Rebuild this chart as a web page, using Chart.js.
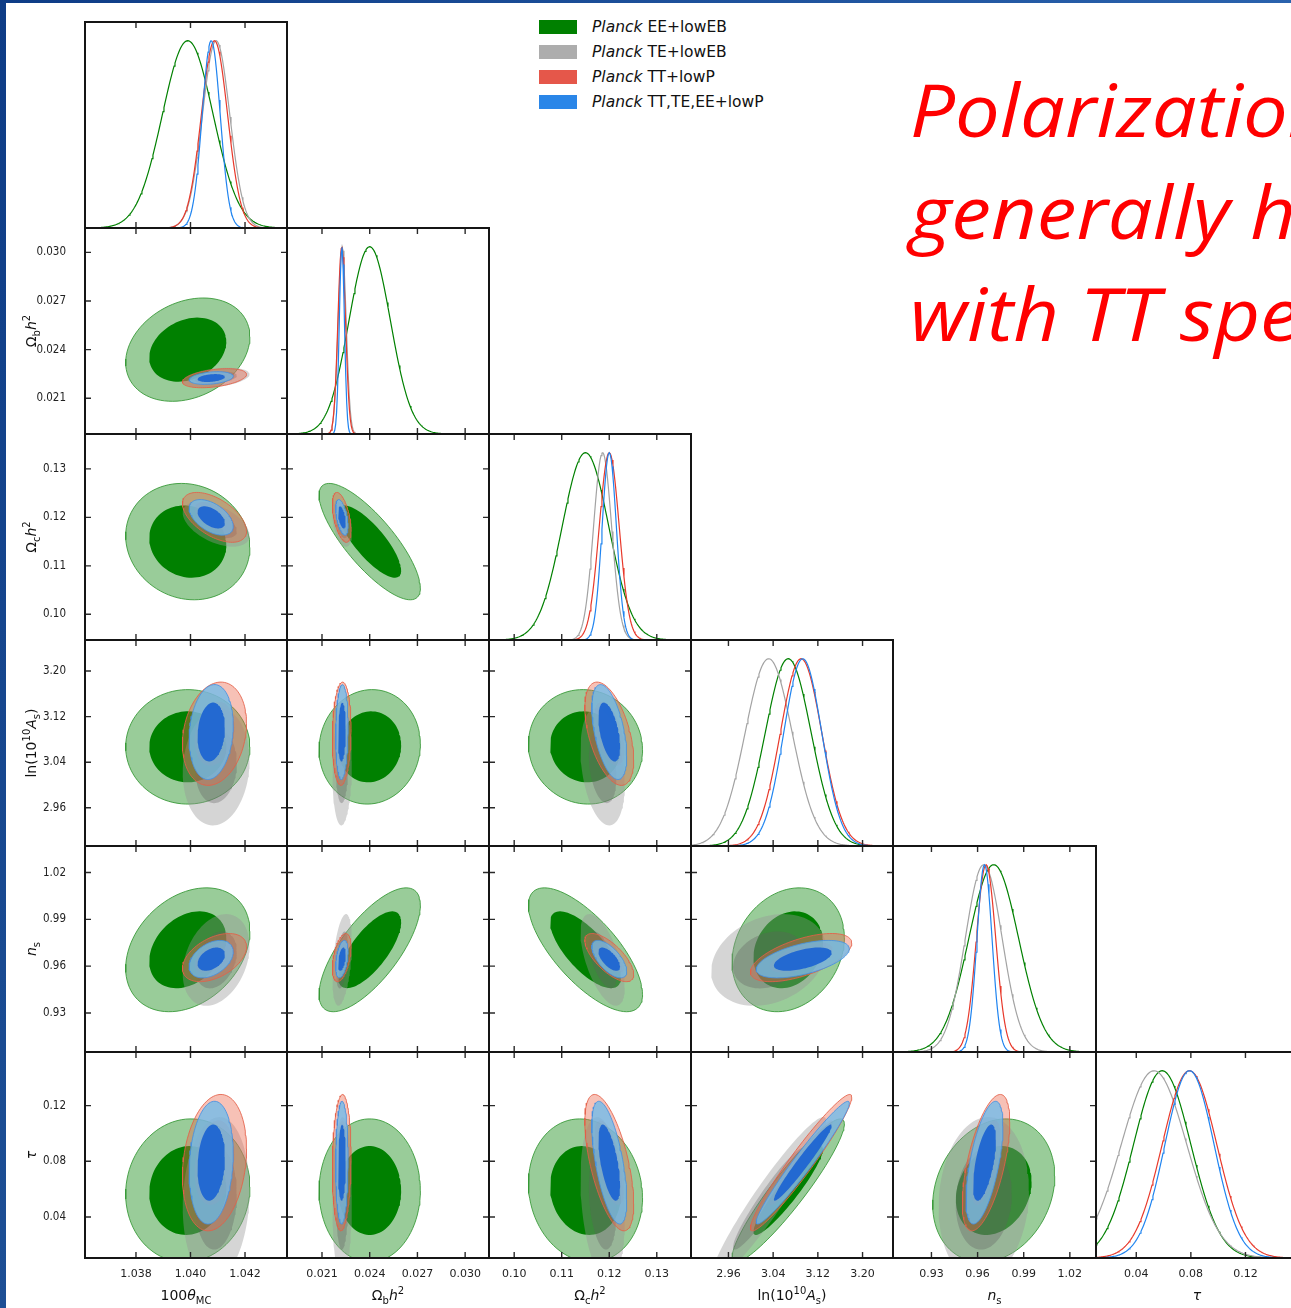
<!DOCTYPE html>
<html>
<head>
<meta charset="utf-8">
<script src="https://cdn.jsdelivr.net/npm/chart.js@4.4.1/dist/chart.umd.min.js"></script>
<style>
html,body{margin:0;padding:0;background:#fff;width:1291px;height:1308px;overflow:hidden;}
#stage{position:relative;width:1291px;height:1308px;overflow:hidden;background:#fff;}
.barL{position:absolute;left:0;top:0;width:6px;height:1308px;background:linear-gradient(180deg,#0e3c86,#1d4f95);}
.barT{position:absolute;left:0;top:0;width:1291px;height:3px;background:linear-gradient(90deg,#0e3c86,#2a62ad);}
canvas.panel{position:absolute;}
.legend{position:absolute;left:539px;top:0;font-family:'DejaVu Sans',sans-serif;font-size:15.5px;color:#111;}
.legend .item{position:absolute;left:0;white-space:nowrap;height:20px;}
.legend .sw{position:absolute;left:0;width:38px;height:14px;}
.legend .tx{position:absolute;left:53px;top:-2px;line-height:18px;}
.axt{position:absolute;font-family:'DejaVu Sans',sans-serif;font-size:14px;color:#111;white-space:nowrap;transform:translate(-50%,-50%);}
.axt.rot{transform:translate(-50%,-50%) rotate(-90deg);}
.axt sub,.axt sup{font-size:10px;line-height:0;}
.headline{position:absolute;left:910px;top:58px;font-family:'Open Sans',sans-serif;font-style:italic;font-size:73px;line-height:102px;color:#ff0000;white-space:nowrap;transform:scaleX(1.09);transform-origin:0 0;}
</style>
</head>
<body>
<div id="stage">
  <div class="barL"></div>
  <div class="barT"></div>
  <div class="legend" id="legend"></div>
  <div class="headline">Polarization spectra<br>generally have good<br>with TT spectra</div>
</div>
<script>
// ---------------- data ----------------
const SERIES_NAMES = ['EE+lowEB', 'TE+lowEB', 'TT+lowP', 'TT,TE,EE+lowP'];
const PARAM_NAMES = ['100θMC', 'Ωbh2', 'Ωch2', 'ln(10^10 As)', 'ns', 'τ'];

// axis ranges of each parameter
const AXIS_MIN = [1.03613, 0.01880, 0.0947, 2.8930, 0.9050, 0.0105];
const AXIS_MAX = [1.04354, 0.03150, 0.1372, 3.2545, 1.0370, 0.1585];
// tick labels of each parameter
const TICKS_THETA = [1.038, 1.040, 1.042];
const TICKS_OMBH2 = [0.021, 0.024, 0.027, 0.030];
const TICKS_OMCH2 = [0.10, 0.11, 0.12, 0.13];
const TICKS_LOGA  = [2.96, 3.04, 3.12, 3.20];
const TICKS_NS    = [0.93, 0.96, 0.99, 1.02];
const TICKS_TAU   = [0.04, 0.08, 0.12];
const TICK_DECIMALS = [3, 3, 2, 2, 2, 2];

// posterior means  [θ, Ωbh², Ωch², ln As, ns, τ]
const MEAN_EE     = [1.03990, 0.02400, 0.1150, 3.067, 0.9705, 0.059];
const MEAN_TE     = [1.04094, 0.02227, 0.1186, 3.032, 0.9640, 0.053];
const MEAN_TT     = [1.04088, 0.02224, 0.1200, 3.090, 0.9655, 0.079];
const MEAN_TTTEEE = [1.04076, 0.02225, 0.1200, 3.093, 0.9645, 0.079];
// standard deviations
const SIGMA_EE     = [0.00093, 0.00130, 0.0049, 0.041, 0.0162, 0.021];
const SIGMA_TE     = [0.00050, 0.00025, 0.0019, 0.042, 0.0120, 0.024];
const SIGMA_TT     = [0.00048, 0.00024, 0.0021, 0.037, 0.0063, 0.020];
const SIGMA_TTTEEE = [0.00033, 0.00016, 0.0015, 0.034, 0.0049, 0.018];
// correlations for pairs (1,0),(2,0),(2,1),(3,0),(3,1),(3,2),(4,0),(4,1),(4,2),(4,3),(5,0),(5,1),(5,2),(5,3),(5,4)
const CORR_EE     = [0.25, -0.10, -0.80, 0.00, 0.05, -0.05, 0.30, 0.72, -0.72, 0.20, 0.05, 0.00, -0.10, 0.93, 0.20];
const CORR_TE     = [0.35, -0.50, -0.40, 0.10, 0.10, -0.30, 0.30, 0.40, -0.60, 0.25, 0.10, 0.05, -0.25, 0.95, 0.10];
const CORR_TT     = [0.40, -0.55, -0.50, 0.20, 0.10, -0.50, 0.45, 0.45, -0.70, 0.60, 0.20, 0.10, -0.60, 0.96, 0.60];
const CORR_TTTEEE = [0.30, -0.50, -0.50, 0.15, 0.10, -0.50, 0.40, 0.40, -0.65, 0.55, 0.15, 0.05, -0.60, 0.97, 0.60];

// ---------------- styling ----------------
const TICKS = [TICKS_THETA, TICKS_OMBH2, TICKS_OMCH2, TICKS_LOGA, TICKS_NS, TICKS_TAU];
const MEANS = [MEAN_EE, MEAN_TE, MEAN_TT, MEAN_TTTEEE];
const SIGMAS = [SIGMA_EE, SIGMA_TE, SIGMA_TT, SIGMA_TTTEEE];
const CORRS = [CORR_EE, CORR_TE, CORR_TT, CORR_TTTEEE];
const LINE_COL  = ['#008000', '#a3a3a3', '#e8392b', '#1f84f0'];
const LEG_COL   = ['#008000', '#adadad', '#e5574a', '#2a86e8'];
const FILL_OUT  = ['rgba(0,128,0,0.40)', 'rgba(150,150,150,0.40)', 'rgba(236,100,72,0.40)', 'rgba(112,188,236,0.78)'];
const FILL_IN   = ['rgba(0,128,0,1)', 'rgba(95,95,95,0.33)', 'rgba(225,80,60,0.30)', 'rgba(31,102,209,0.96)'];
const EDGE_OUT  = ['rgba(50,150,50,0.85)', 'rgba(0,0,0,0)', 'rgba(228,95,72,0.85)', 'rgba(70,145,225,0.85)'];
const R_INNER = 1.52, R_OUTER = 2.45;

const COL_X = [85, 287, 489, 691, 893, 1096, 1298];
const ROW_Y = [22, 228, 434, 640, 846, 1052, 1258];
const PAD = 3, YAX = 80, XAX = 48;

function pairIndex(r, c) { return r * (r - 1) / 2 + c; }

function ellipse(mx, my, sx, sy, rho, rad) {
  const pts = [], k = Math.sqrt(1 - rho * rho), N = 90;
  for (let i = 0; i <= N; i++) {
    const t = 2 * Math.PI * i / N;
    pts.push({x: mx + rad * sx * Math.cos(t), y: my + rad * sy * (rho * Math.cos(t) + k * Math.sin(t))});
  }
  return pts;
}
function gauss1d(m, s, lo, hi) {
  const pts = [], N = 220;
  for (let i = 0; i <= N; i++) {
    const x = lo + (hi - lo) * i / N;
    pts.push({x, y: Math.exp(-0.5 * ((x - m) / s) ** 2)});
  }
  return pts;
}

function framePlugin(xt, yt) {
  return {
    id: 'frameTicks',
    afterDatasetsDraw(chart) {
      const {ctx, chartArea: a, scales} = chart;
      ctx.save();
      ctx.strokeStyle = '#2a2a2a';
      ctx.lineWidth = 1.4;
      const L = 6;
      ctx.beginPath();
      xt.forEach(v => {
        const p = scales.x.getPixelForValue(v);
        ctx.moveTo(p, a.top); ctx.lineTo(p, a.top + L);
        ctx.moveTo(p, a.bottom); ctx.lineTo(p, a.bottom - L);
      });
      yt.forEach(v => {
        const p = scales.y.getPixelForValue(v);
        ctx.moveTo(a.left, p); ctx.lineTo(a.left + L, p);
        ctx.moveTo(a.right, p); ctx.lineTo(a.right - L, p);
      });
      ctx.stroke();
      ctx.strokeStyle = '#151515';
      ctx.lineWidth = 2;
      ctx.strokeRect(a.left, a.top, a.right - a.left, a.bottom - a.top);
      ctx.restore();
    }
  };
}

function zeroPad(sc) { sc.paddingTop = 0; sc.paddingBottom = 0; sc.paddingLeft = 0; sc.paddingRight = 0; }

const stage = document.getElementById('stage');

function makePanel(r, c) {
  const diag = (r === c);
  const showY = (c === 0 && !diag);
  const showX = (r === 5);
  const pw = COL_X[c + 1] - COL_X[c], ph = ROW_Y[r + 1] - ROW_Y[r];
  const left = COL_X[c] - PAD - (showY ? YAX : 0);
  const top = ROW_Y[r] - PAD;
  const w = pw + 2 * PAD + (showY ? YAX : 0);
  const h = ph + 2 * PAD + (showX ? XAX : 0);
  const cv = document.createElement('canvas');
  cv.className = 'panel';
  cv.width = w; cv.height = h;
  cv.style.left = left + 'px'; cv.style.top = top + 'px';
  cv.style.width = w + 'px'; cv.style.height = h + 'px';
  stage.appendChild(cv);

  const datasets = [];
  if (diag) {
    for (let s = 0; s < 4; s++) {
      datasets.push({
        data: gauss1d(MEANS[s][c], SIGMAS[s][c], AXIS_MIN[c], AXIS_MAX[c]),
        borderColor: LINE_COL[s], borderWidth: 1.2, fill: false, pointRadius: 0, order: 10 - s
      });
    }
  } else {
    const pi = pairIndex(r, c);
    for (let s = 0; s < 4; s++) {
      const mx = MEANS[s][c], my = MEANS[s][r], sx = SIGMAS[s][c], sy = SIGMAS[s][r], rho = CORRS[s][pi];
      datasets.push({
        data: ellipse(mx, my, sx, sy, rho, R_OUTER),
        backgroundColor: FILL_OUT[s], borderColor: EDGE_OUT[s], borderWidth: 1,
        fill: 'shape', pointRadius: 0, order: 20 - 2 * s
      });
      datasets.push({
        data: ellipse(mx, my, sx, sy, rho, R_INNER),
        backgroundColor: FILL_IN[s], borderColor: 'rgba(0,0,0,0)', borderWidth: 0,
        fill: 'shape', pointRadius: 0, order: 19 - 2 * s
      });
    }
  }

  const xScale = {
    type: 'linear', min: AXIS_MIN[c], max: AXIS_MAX[c], display: showX, position: 'bottom',
    grid: {display: false, drawTicks: false}, border: {display: false},
    ticks: {padding: 10, autoSkip: false, maxRotation: 0, color: '#222',
      font: {family: "'DejaVu Sans', sans-serif", size: 11},
      callback: v => Number(v).toFixed(TICK_DECIMALS[c])},
    afterBuildTicks: sc => { sc.ticks = TICKS[c].map(v => ({value: v})); },
    afterFit: sc => { zeroPad(sc); if (showX) sc.height = XAX; }
  };
  const yScale = diag ? {
    type: 'linear', min: 0, max: 1.10, display: false
  } : {
    type: 'linear', min: AXIS_MIN[r], max: AXIS_MAX[r], display: showY, position: 'left',
    grid: {display: false, drawTicks: false}, border: {display: false},
    ticks: {padding: 19, autoSkip: false, color: '#222',
      font: {family: "'Liberation Sans Narrow', 'DejaVu Sans Condensed', sans-serif", size: 11.5},
      callback: v => Number(v).toFixed(TICK_DECIMALS[r])},
    afterBuildTicks: sc => { sc.ticks = TICKS[r].map(v => ({value: v})); },
    afterFit: sc => { zeroPad(sc); if (showY) sc.width = YAX; }
  };

  new Chart(cv, {
    type: 'line',
    data: {datasets},
    options: {
      responsive: false, animation: false, devicePixelRatio: 1, events: [],
      layout: {padding: {left: PAD, right: PAD, top: PAD, bottom: PAD}},
      plugins: {legend: {display: false}, tooltip: {enabled: false}},
      elements: {point: {radius: 0}, line: {tension: 0}},
      scales: {x: xScale, y: yScale}
    },
    plugins: [framePlugin(TICKS[c], diag ? [] : TICKS[r])]
  });
}

for (let r = 0; r < 6; r++) for (let c = 0; c <= r; c++) makePanel(r, c);

// axis titles
const AXIS_TITLES_HTML = [
  '100<i>θ</i><sub>MC</sub>',
  'Ω<sub>b</sub><i>h</i><sup>2</sup>',
  'Ω<sub>c</sub><i>h</i><sup>2</sup>',
  'ln(10<sup>10</sup><i>A</i><sub>s</sub>)',
  '<i>n</i><sub>s</sub>',
  '<i>τ</i>'
];
for (let c = 0; c < 6; c++) {
  const d = document.createElement('div');
  d.className = 'axt';
  d.innerHTML = AXIS_TITLES_HTML[c];
  d.style.left = ((COL_X[c] + COL_X[c + 1]) / 2) + 'px';
  d.style.top = '1295px';
  stage.appendChild(d);
}
for (let r = 1; r < 6; r++) {
  const d = document.createElement('div');
  d.className = 'axt rot';
  d.innerHTML = AXIS_TITLES_HTML[r];
  d.style.left = '31px';
  d.style.top = ((ROW_Y[r] + ROW_Y[r + 1]) / 2) + 'px';
  stage.appendChild(d);
}

// legend
const LEG_Y = [20, 45, 70, 95];
const leg = document.getElementById('legend');
for (let s = 0; s < 4; s++) {
  const it = document.createElement('div');
  it.className = 'item';
  it.style.top = LEG_Y[s] + 'px';
  it.innerHTML = '<div class="sw" style="background:' + LEG_COL[s] + '"></div><div class="tx"><i>Planck</i> ' + SERIES_NAMES[s] + '</div>';
  leg.appendChild(it);
}
</script>
</body>
</html>
